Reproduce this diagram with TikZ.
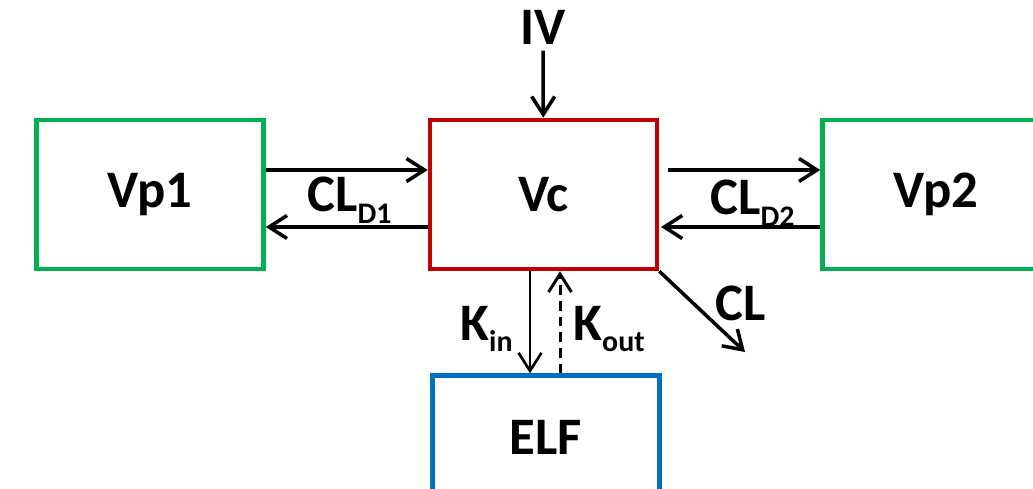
\documentclass[tikz,border=0pt]{standalone}
\usepackage{fontspec}
\setmainfont{Carlito}
\usetikzlibrary{arrows.meta,positioning}
\definecolor{cmpgreen}{RGB}{0,176,80}
\definecolor{cmpred}{RGB}{192,0,0}
\definecolor{cmpblue}{RGB}{0,112,192}
\newcommand{\lowsub}[1]{\raisebox{-0.22em}{\fontsize{17}{17}\selectfont #1}}

\begin{document}
\begin{tikzpicture}[
      x=0.02cm, y=-0.02cm,
      comp/.style={draw, line width=2.6pt, minimum width=4.54cm, minimum height=2.98cm, inner sep=0pt, font=\fontsize{30}{32}\selectfont\bfseries},
      lbl/.style={inner sep=0pt, anchor=base west, font=\fontsize{30}{32}\selectfont\bfseries},
      arr/.style={-{Straight Barb[length=3.6mm, width=4.6mm]}, line width=2pt, color=black}
    ]
      \useasboundingbox (0,0) rectangle (1033,489);
      \clip (0,0) rectangle (1033,489);

      % compartments
      \node[comp, draw=cmpred] (vc) at (543.5,194.5) {Vc};
      \node[comp, draw=cmpgreen, left=3.24cm of vc] (vp1) {Vp1};
      \node[comp, draw=cmpgreen, right=3.22cm of vc] (vp2) {Vp2};
      \node[comp, draw=cmpblue, minimum height=2.48cm, below=2.04cm of vc, xshift=0.05cm] (elf) {ELF};

      % dose and elimination
      \node[lbl, anchor=base] (iv) at (543,45) {IV};
      \coordinate (clend) at (745,352);

      \draw[arr, shorten <=3pt] (iv) -- (vc);
      \draw[arr] ([yshift=0.49cm]vp1.east) -- ([yshift=0.49cm]vc.west);
      \draw[arr] ([yshift=-0.65cm]vc.west) -- ([yshift=-0.65cm]vp1.east);
      \draw[arr, shorten <=5pt] ([yshift=0.49cm]vc.east) -- ([yshift=0.49cm]vp2.west);
      \draw[arr, shorten >=1pt] ([yshift=-0.65cm]vp2.west) -- ([yshift=-0.65cm]vc.east);
      \draw[arr, line width=1.5pt] ([xshift=-0.27cm]vc.south) -- ([xshift=-0.27cm]vc.south |- elf.north);
      \draw[arr, line width=1.7pt, dash pattern=on 5.5pt off 3.4pt] ([xshift=0.33cm]vc.south |- elf.north) -- ([xshift=0.33cm]vc.south);
      \draw[arr] (vc.south east) -- (clend);

      % rate labels
      \node[lbl] (cld1) at (307,212) {CL\lowsub{D1}};
      \node[lbl] (cld2) at (710,215) {CL\lowsub{D2}};
      \node[lbl] (kin) at (460,340) {K\lowsub{in}};
      \node[lbl] (kout) at (573,340) {K\lowsub{out}};
      \node[lbl] (cl) at (715,320) {CL};
    \end{tikzpicture}
\end{document}
